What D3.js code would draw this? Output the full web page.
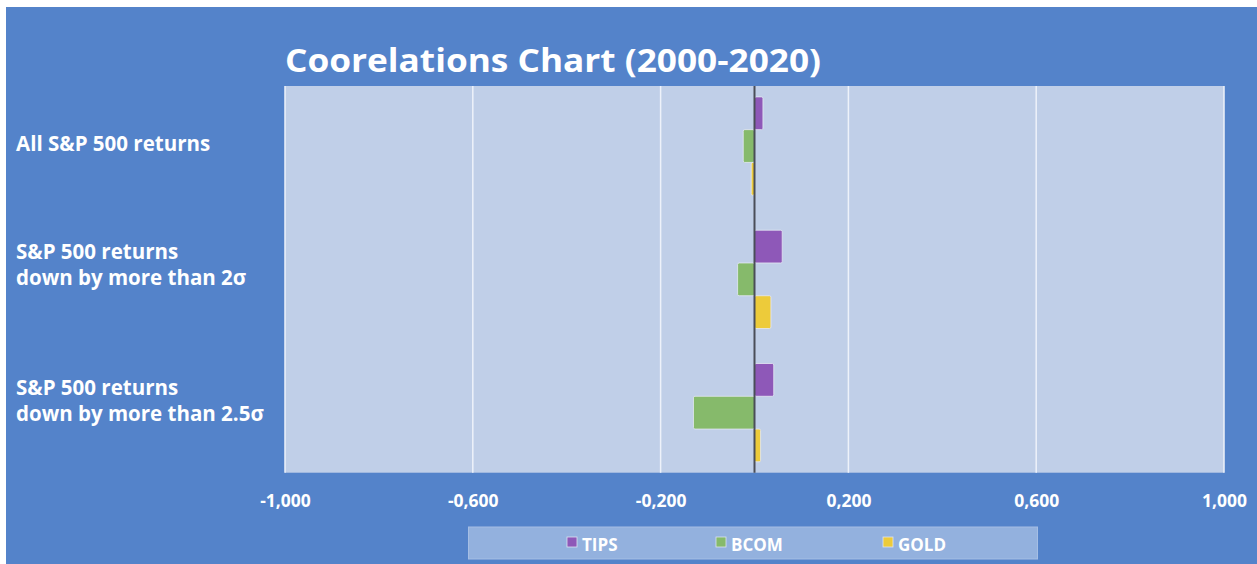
<!DOCTYPE html>
<html>
<head>
<meta charset="utf-8">
<script src="https://cdn.jsdelivr.net/npm/d3@7"></script>
<style>
html,body{margin:0;padding:0;background:#fff;}
svg{display:block;}
text{font-family:"Open Sans",Lato,sans-serif;font-weight:700;fill:#fff;}
</style>
</head>
<body>
<svg id="chart" width="1257" height="564"></svg>
<script>
const title = "Coorelations Chart (2000-2020)";
const categories = [
  ["All S&P 500 returns"],
  ["S&P 500 returns", "down by more than 2σ"],
  ["S&P 500 returns", "down by more than 2.5σ"]
];
const seriesNames = ["TIPS", "BCOM", "GOLD"];
const seriesColors = ["#8E58B8", "#86BA6B", "#EDCB3A"];
const tipsValues = [0.018, 0.059, 0.041];
const bcomValues = [-0.024, -0.036, -0.130];
const goldValues = [-0.007, 0.035, 0.013];
const tickValues = [-1, -0.6, -0.2, 0.2, 0.6, 1];
const tickLabels = ["-1,000", "-0,600", "-0,200", "0,200", "0,600", "1,000"];

const series = [tipsValues, bcomValues, goldValues];
const svg = d3.select("#chart");

// chart background
svg.append("rect").attr("x", 6).attr("y", 7).attr("width", 1251).attr("height", 557).attr("fill", "#5483CA");

const plot = {left: 285, right: 1224, top: 86, bottom: 472.7};
svg.append("rect").attr("x", plot.left).attr("y", plot.top)
  .attr("width", plot.right - plot.left).attr("height", plot.bottom - plot.top)
  .attr("fill", "#C0CFE8");

const x = d3.scaleLinear().domain([-1, 1]).range([plot.left, plot.right]);
const yCat = d3.scaleBand().domain(d3.range(categories.length))
  .range([plot.top, plot.bottom]).paddingInner(0.2625).paddingOuter(0.0816);
const ySer = d3.scaleBand().domain(d3.range(seriesNames.length)).range([0, yCat.bandwidth()]);

// gridlines
svg.append("g").selectAll("line").data(tickValues).join("line")
  .attr("x1", d => x(d)).attr("x2", d => x(d))
  .attr("y1", plot.top).attr("y2", plot.bottom)
  .attr("stroke", "#EEF2FA").attr("stroke-width", 1.5);

// bars
const gBars = svg.append("g");
series.forEach((vals, si) => {
  gBars.selectAll(null).data(vals).join("rect")
    .attr("x", d => Math.min(x(0), x(d)))
    .attr("width", d => Math.abs(x(d) - x(0)))
    .attr("y", (d, i) => yCat(i) + ySer(si))
    .attr("height", ySer.bandwidth())
    .attr("rx", 1.5)
    .attr("fill", seriesColors[si])
    .attr("stroke", "#E4E8F4").attr("stroke-width", 0.8);
});

// zero line
svg.append("line").attr("x1", x(0)).attr("x2", x(0)).attr("y1", plot.top).attr("y2", plot.bottom)
  .attr("stroke", "#4A4E58").attr("stroke-width", 2);

// x axis labels
const xAxis = d3.axisBottom(x).tickValues(tickValues).tickSize(0)
  .tickFormat((d, i) => tickLabels[i]);
const gx = svg.append("g").attr("transform", `translate(0,${plot.bottom})`).call(xAxis);
gx.select(".domain").remove();
gx.selectAll("text").attr("dy", null).attr("y", 34).attr("font-size", 17.5)
  .attr("font-family", "'Open Sans', sans-serif").attr("font-weight", 700).attr("fill", "#fff");

// category labels
const labelBaselines = [[150.7], [259.3, 285], [395, 421]];
categories.forEach((lines, i) => {
  const t = svg.append("text").attr("x", 16).attr("font-size", 20.5);
  lines.forEach((ln, j) => {
    t.append("tspan").attr("x", 16).attr("y", labelBaselines[i][j]).text(ln);
  });
});

// title
svg.append("text").attr("x", 285).attr("y", 72).attr("font-size", 32)
  .attr("textLength", 536).attr("lengthAdjust", "spacingAndGlyphs").text(title);

// legend
svg.append("rect").attr("x", 468.5).attr("y", 527).attr("width", 569).attr("height", 32)
  .attr("fill", "#93B1DE").attr("stroke", "#A5BEE4").attr("stroke-width", 1);
const legendX = [567, 716, 883];
seriesNames.forEach((s, i) => {
  svg.append("rect").attr("x", legendX[i]).attr("y", 537).attr("width", 10).attr("height", 10)
    .attr("fill", seriesColors[i]).attr("stroke", "#DDE4F2").attr("stroke-width", 0.8);
  svg.append("text").attr("x", legendX[i] + 15).attr("y", 550.5).attr("font-size", 17).text(s);
});
</script>
</body>
</html>
